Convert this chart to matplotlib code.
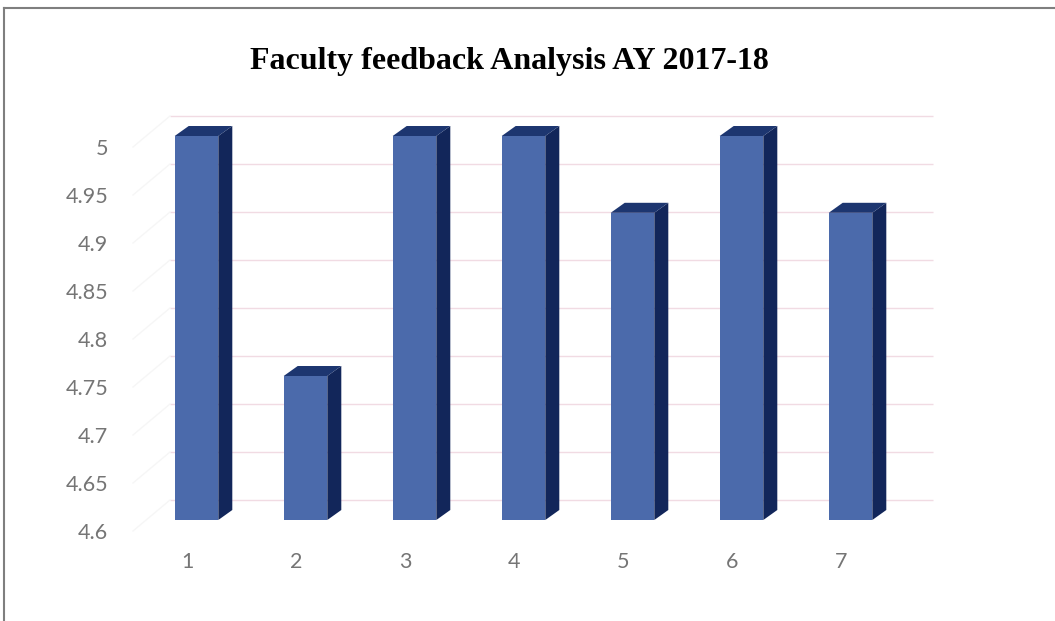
import numpy as np
import matplotlib
matplotlib.use("Agg")
import matplotlib.pyplot as plt
import matplotlib.transforms as mtransforms
from matplotlib.patches import Polygon
from matplotlib.lines import Line2D

# data
categories = [1, 2, 3, 4, 5, 6, 7]
scores = [5.0, 4.75, 5.0, 5.0, 4.92, 5.0, 4.92]
yticks = [4.6, 4.65, 4.7, 4.75, 4.8, 4.85, 4.9, 4.95, 5.0]
ytick_labels = ["4.6", "4.65", "4.7", "4.75", "4.8", "4.85", "4.9", "4.95", "5"]
title = "Faculty feedback Analysis AY 2017-18"

W, H, DPI = 1055, 621, 100
fig = plt.figure(figsize=(W / DPI, H / DPI), dpi=DPI)
fig.patch.set_facecolor("white")

# axes placed in pixels (front plane of the 3d box)
ax = fig.add_axes([133 / W, (H - 531) / H, 763 / W, 384 / H])
ax.set_xlim(0.5, 7.5)
ax.set_ylim(4.6, 5.0)
ax.set_autoscale_on(False)
for s in ax.spines.values():
    s.set_visible(False)
ax.set_facecolor("none")

def shifted(dx, dy):
    # data transform moved by a pixel offset (fake depth)
    return ax.transData + mtransforms.ScaledTranslation(dx / DPI, dy / DPI, fig.dpi_scale_trans)

ident = mtransforms.IdentityTransform()

# back wall gridlines and side wall lines
grid_col = "#f1dbe3"
ax.hlines(yticks, 0.5, 7.5, colors=grid_col, linewidth=1.0,
          transform=shifted(37, 31), clip_on=False, zorder=0)
for t in yticks:
    p0 = ax.transData.transform((0.5, t))
    p1 = shifted(37, 31).transform((0.5, t))
    ax.add_line(Line2D([p0[0], p1[0]], [p0[1], p1[1]], transform=ident,
                       color="#f6f6f6", linewidth=1.0, clip_on=False, zorder=0))

# 3d bars
front_col = "#4b6aab"
side_col = "#12265a"
top_col = "#1d3670"
bw = 0.40
base = 4.6
front = shifted(9, 11)
back = shifted(23, 21)
for x, v in zip(categories, scores):
    xl, xr = x - bw / 2, x + bw / 2
    side = np.vstack([front.transform([(xr, base), (xr, v)]),
                      back.transform([(xr, v), (xr, base)])])
    ax.add_patch(Polygon(side, closed=True, transform=ident, facecolor=side_col,
                         edgecolor="none", clip_on=False, zorder=2))
    top = np.vstack([front.transform([(xl, v), (xr, v)]),
                     back.transform([(xr, v), (xl, v)])])
    ax.add_patch(Polygon(top, closed=True, transform=ident, facecolor=top_col,
                         edgecolor="none", clip_on=False, zorder=2))
    ax.bar(x, v - base, bottom=base, width=bw, color=front_col,
           transform=front, clip_on=False, zorder=3)

ax.set_xlim(0.5, 7.5)
ax.set_ylim(4.6, 5.0)

ax.set_yticks(yticks)
ax.set_yticklabels(ytick_labels)
ax.set_xticks(categories)
ax.set_xticklabels([str(c) for c in categories])
ax.tick_params(axis="y", length=0, pad=18, labelsize=15.5, labelcolor="#757575")
ax.tick_params(axis="x", length=0, pad=15, labelsize=15.5, labelcolor="#757575")
for lab in ax.get_xticklabels() + ax.get_yticklabels():
    lab.set_fontfamily("Lato")

fig.text(509 / W, 1 - 61 / H, title, ha="center", va="center",
         fontfamily="Liberation Serif", fontweight="bold", fontsize=23, color="black")

# chart frame (top and left edges)
fig.add_artist(Line2D([4 / W, 4 / W], [0, 1 - 8 / H], color="#7f7f7f", linewidth=1.5))
fig.add_artist(Line2D([4 / W, 1], [1 - 8 / H, 1 - 8 / H], color="#7f7f7f", linewidth=1.5))

fig.savefig("out.png", dpi=DPI)
